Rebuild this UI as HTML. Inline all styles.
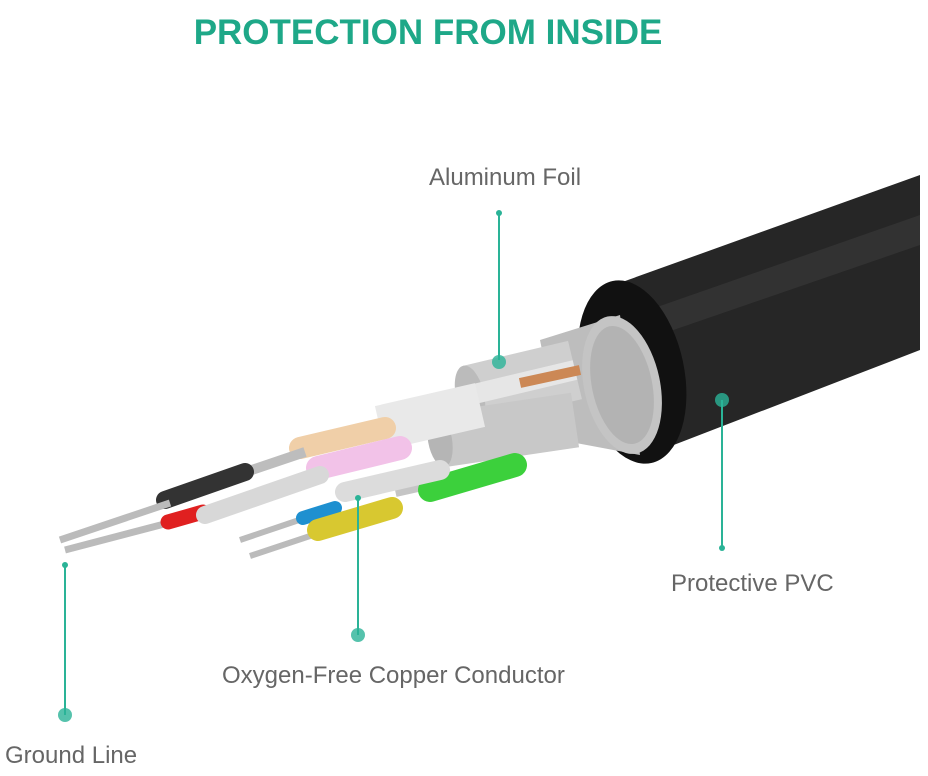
<!DOCTYPE html>
<html><head><meta charset="utf-8"><style>
html,body{margin:0;padding:0;background:#fff;width:928px;height:776px;overflow:hidden}
svg{display:block}
</style></head><body>
<svg width="928" height="776" viewBox="0 0 928 776" xmlns="http://www.w3.org/2000/svg">
<text x="428" y="44" text-anchor="middle" font-family="Liberation Sans, sans-serif" font-weight="bold" font-size="35" fill="#1ea888">PROTECTION FROM INSIDE</text>
<!-- cable body -->
<polygon points="600,290 920,175 920,350 640,458" fill="#262626"/>
<polygon points="620,320 920,215 920,245 630,345" fill="#3a3a3a" opacity="0.6"/>
<ellipse cx="632" cy="372" rx="52" ry="93" transform="rotate(-12 632 372)" fill="#111"/>
<!-- braid -->
<polygon points="540,340 620,315 640,455 560,440" fill="#bdbdbd"/>
<ellipse cx="622" cy="385" rx="38" ry="70" transform="rotate(-12 622 385)" fill="#c4c4c4"/>
<ellipse cx="622" cy="385" rx="30" ry="60" transform="rotate(-12 622 385)" fill="#a9a9a9" opacity="0.6"/>
<!-- silver foil tubes -->
<line x1="470" y1="395" x2="575" y2="370" stroke="#cfcfcf" stroke-width="60"/>
<ellipse cx="470" cy="395" rx="14" ry="30" transform="rotate(-13 470 395)" fill="#bbb"/>
<line x1="470" y1="395" x2="575" y2="370" stroke="#e6e6e6" stroke-width="20"/>
<line x1="520" y1="383" x2="580" y2="370" stroke="#cc8855" stroke-width="10"/>
<line x1="440" y1="440" x2="575" y2="420" stroke="#c8c8c8" stroke-width="55"/>
<ellipse cx="440" cy="440" rx="12" ry="27" transform="rotate(-10 440 440)" fill="#b5b5b5"/>
<line x1="380" y1="428" x2="480" y2="405" stroke="#e9e9e9" stroke-width="45"/>
<line x1="300" y1="448" x2="385" y2="428" stroke="#f0cfa8" stroke-width="22" stroke-linecap="round"/>
<line x1="318" y1="468" x2="400" y2="448" stroke="#f2c2e8" stroke-width="24" stroke-linecap="round"/>
<!-- black / red -->
<line x1="240" y1="474" x2="305" y2="452" stroke="#bdbdbd" stroke-width="10"/>
<line x1="165" y1="500" x2="245" y2="472" stroke="#333" stroke-width="18" stroke-linecap="round"/>
<line x1="60" y1="540" x2="170" y2="503" stroke="#bbb" stroke-width="7"/>
<line x1="65" y1="550" x2="172" y2="522" stroke="#bbb" stroke-width="7"/>
<line x1="168" y1="522" x2="203" y2="512" stroke="#e02020" stroke-width="15" stroke-linecap="round"/>
<line x1="205" y1="515" x2="320" y2="475" stroke="#d8d8d8" stroke-width="18" stroke-linecap="round"/>
<!-- green -->
<line x1="395" y1="490" x2="440" y2="480" stroke="#c5c5c5" stroke-width="14"/>
<line x1="430" y1="490" x2="515" y2="465" stroke="#3cd03c" stroke-width="24" stroke-linecap="round"/>
<line x1="345" y1="492" x2="440" y2="470" stroke="#dcdcdc" stroke-width="20" stroke-linecap="round"/>
<!-- blue/yellow -->
<line x1="240" y1="540" x2="308" y2="517" stroke="#bbb" stroke-width="6"/>
<line x1="250" y1="556" x2="322" y2="532" stroke="#bbb" stroke-width="6"/>
<line x1="303" y1="518" x2="335" y2="508" stroke="#1e90d0" stroke-width="14" stroke-linecap="round"/>
<line x1="318" y1="530" x2="392" y2="508" stroke="#d8c830" stroke-width="22" stroke-linecap="round"/>
<!-- callouts -->
<g stroke="#2ab397" stroke-width="2" fill="none">
<line x1="499" y1="213" x2="499" y2="360"/>
<line x1="722" y1="400" x2="722" y2="548"/>
<line x1="358" y1="498" x2="358" y2="635"/>
<line x1="65" y1="565" x2="65" y2="715"/>
</g>
<g fill="#2ab397">
<circle cx="499" cy="213" r="3"/><circle cx="499" cy="362" r="7" opacity="0.8"/>
<circle cx="722" cy="400" r="7" opacity="0.8"/><circle cx="722" cy="548" r="3"/>
<circle cx="358" cy="498" r="3"/><circle cx="358" cy="635" r="7" opacity="0.8"/>
<circle cx="65" cy="565" r="3"/><circle cx="65" cy="715" r="7" opacity="0.8"/>
</g>
<g font-family="Liberation Sans, sans-serif" font-size="24" fill="#666">
<text x="429" y="185">Aluminum Foil</text>
<text x="671" y="591">Protective PVC</text>
<text x="222" y="683">Oxygen-Free Copper Conductor</text>
<text x="5" y="763">Ground Line</text>
</g>
</svg>
</body></html>
